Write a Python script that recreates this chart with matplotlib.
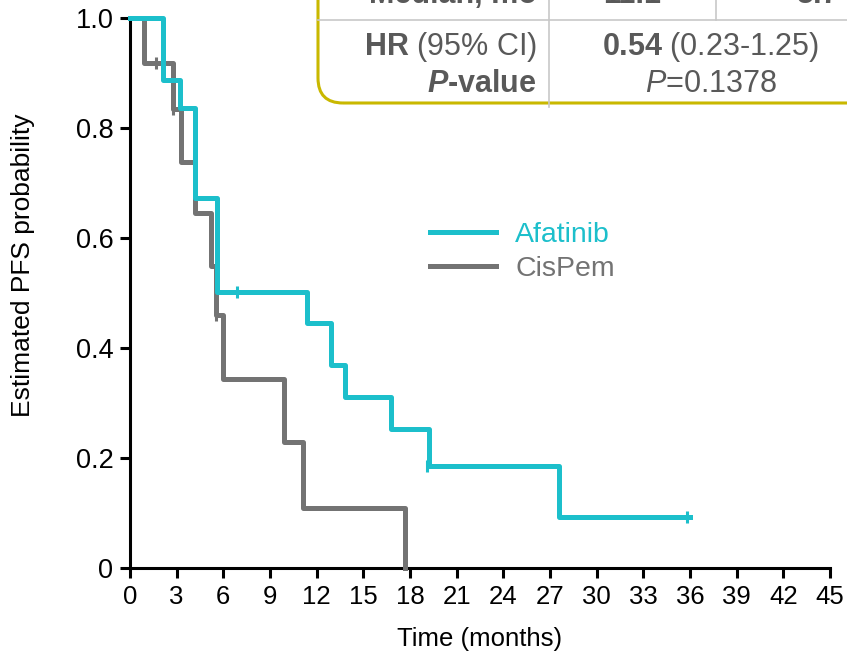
import matplotlib
matplotlib.use('Agg')
import matplotlib.pyplot as plt
from matplotlib.patches import FancyBboxPatch
from matplotlib.lines import Line2D

plt.rcParams['font.family'] = ['Liberation Sans', 'DejaVu Sans']
plt.rcParams['mathtext.fontset'] = 'custom'
plt.rcParams['mathtext.rm'] = 'Liberation Sans'
plt.rcParams['mathtext.it'] = 'Liberation Sans:italic'
plt.rcParams['mathtext.bf'] = 'Liberation Sans:bold'
plt.rcParams['mathtext.bfit'] = 'Liberation Sans:italic:bold'

# Kaplan-Meier steps
afatinib_t = [0, 2.1, 3.2, 4.2, 5.6, 11.35, 12.9, 13.85, 16.75, 19.2, 27.6, 36.0]
afatinib_s = [1.0, 0.887, 0.836, 0.672, 0.501, 0.445, 0.370, 0.311, 0.252, 0.185, 0.092, 0.092]
afatinib_cens_t = [6.9, 19.1, 35.8]
afatinib_cens_s = [0.501, 0.185, 0.092]

cispem_t = [0, 0.9, 2.75, 3.25, 4.2, 5.2, 5.55, 5.95, 9.9, 11.1, 17.7]
cispem_s = [1.0, 0.918, 0.835, 0.739, 0.645, 0.550, 0.460, 0.344, 0.230, 0.110, 0.0]
cispem_cens_t = [1.7, 2.75, 4.1, 5.55]
cispem_cens_s = [0.918, 0.835, 0.739, 0.460]

x_ticks = list(range(0, 46, 3))
y_ticks = [0, 0.2, 0.4, 0.6, 0.8, 1.0]
y_ticklabels = ['0', '0.2', '0.4', '0.6', '0.8', '1.0']

teal = '#1CBFCB'
grey = '#737373'
text_grey = '#595959'
W, H = 847, 654

fig = plt.figure(figsize=(W / 100, H / 100), dpi=100)
ax = fig.add_axes([130 / W, 86 / H, 700 / W, 550 / H])

ax.step(cispem_t, cispem_s, where='post', color=grey, lw=3.6,
        label='CisPem', clip_on=False, zorder=3)
ax.plot(cispem_cens_t, cispem_cens_s, ls='none', marker='|', ms=9,
        mew=2.2, color=grey, clip_on=False, zorder=3)
ax.step(afatinib_t, afatinib_s, where='post', color=teal, lw=3.6,
        label='Afatinib', clip_on=False, zorder=4)
ax.plot(afatinib_cens_t, afatinib_cens_s, ls='none', marker='|', ms=9,
        mew=2.2, color=teal, clip_on=False, zorder=4)

ax.set_xlim(0, 45)
ax.set_ylim(0, 1.0)
ax.set_xticks(x_ticks)
ax.set_yticks(y_ticks)
ax.set_yticklabels(y_ticklabels)
for s in ['top', 'right']:
    ax.spines[s].set_visible(False)
for s in ['left', 'bottom']:
    ax.spines[s].set_linewidth(2.2)
ax.tick_params(axis='both', direction='out', length=7, width=2.2, colors='black')
ax.tick_params(axis='x', labelsize=18.5, pad=5)
ax.tick_params(axis='y', labelsize=19.5, pad=5)
ax.set_xlabel('Time (months)', fontsize=18.5, labelpad=13)
ax.set_ylabel('Estimated PFS probability', fontsize=19)
ax.yaxis.set_label_coords(-0.136, 0.551)

handles, labels = ax.get_legend_handles_labels()
leg = ax.legend(handles[::-1], labels[::-1], loc='upper left',
                bbox_to_anchor=(430 / W, 1 - 222 / H),
                bbox_transform=fig.transFigure, frameon=False, fontsize=20.5,
                borderpad=0, borderaxespad=0, handlelength=2.33,
                handletextpad=0.66, labelspacing=0.28, labelcolor='linecolor')

# summary table box in the top-right corner (pixel coords -> inches)
def inch(px, py):
    return px / 100, (H - py) / 100

bx, by = inch(318, 103)
box = FancyBboxPatch((bx, by), 10, 5, boxstyle='round,pad=0,rounding_size=0.25',
                     transform=fig.dpi_scale_trans, fill=False,
                     ec='#C9B800', lw=2.2)
fig.add_artist(box)
for (x0, y0), (x1, y1) in [((318, 20), (847, 20)), ((549, 0), (549, 107)),
                           ((716, 0), (716, 20))]:
    a, b = inch(x0, y0)
    c, d = inch(x1, y1)
    fig.add_artist(Line2D([a, c], [b, d], transform=fig.dpi_scale_trans,
                          color='#C8C8C8', lw=1.2))

def put(px, py, s, ha, va='center', **kw):
    x, y = inch(px, py)
    fig.text(x, y, s, ha=ha, va=va, transform=fig.dpi_scale_trans,
             fontsize=22, color=text_grey, **kw)

# header row sits mostly above the picture edge, as in the original crop
put(537, 3, 'Median, mo', 'right', va='baseline', fontweight='bold')
put(632, 3, '11.1', 'center', va='baseline', fontweight='bold')
put(817, 3, '5.7', 'center', va='baseline', fontweight='bold')
put(537, 47, r'$\mathbf{HR}$ (95% CI)', 'right')
put(537, 84, r'$\mathbfit{P}$-value', 'right', fontweight='bold')
put(711, 47, r'$\mathbf{0.54}$ (0.23-1.25)', 'center')
put(711, 84, r'$\mathit{P}$=0.1378', 'center')

fig.savefig('out.png', dpi=100)
